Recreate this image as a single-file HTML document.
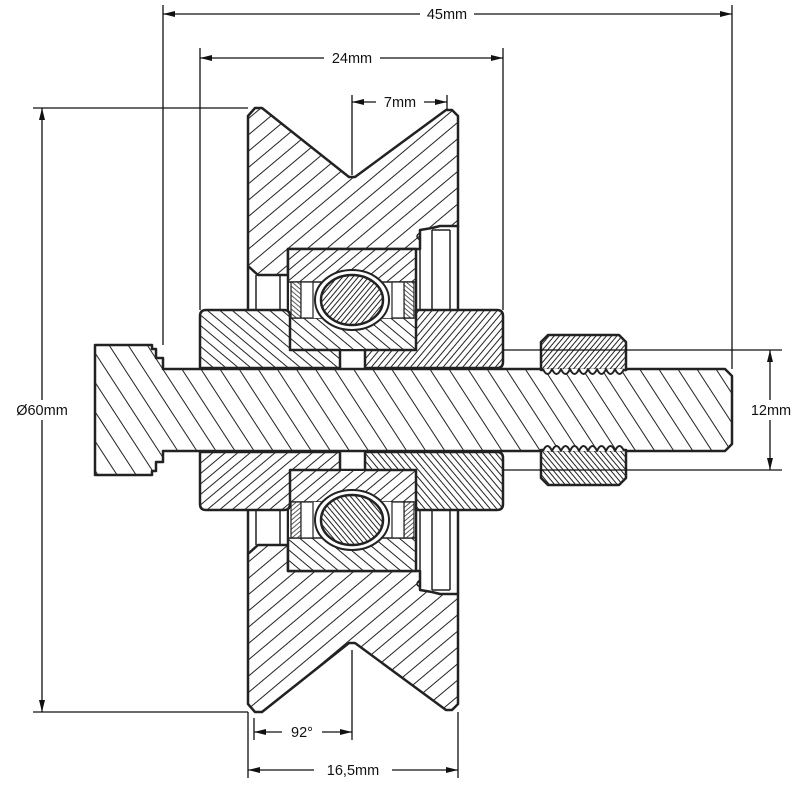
<!DOCTYPE html>
<html><head><meta charset="utf-8"><style>
html,body{margin:0;padding:0;background:#fff;}
svg{display:block;}
text{font-family:"Liberation Sans","DejaVu Sans",sans-serif;font-size:14.5px;fill:#111;}
</style></head><body>
<svg width="800" height="800" viewBox="0 0 800 800" xmlns="http://www.w3.org/2000/svg">
<defs>
<pattern id="pw" patternUnits="userSpaceOnUse" width="20" height="12.5" patternTransform="rotate(-40)"><rect width="20" height="12.5" fill="#fff"/><line x1="0" y1="0.5" x2="20" y2="0.5" stroke="#222" stroke-width="1.1"/></pattern>
<pattern id="pwb" patternUnits="userSpaceOnUse" width="20" height="12.5" patternTransform="rotate(40)"><rect width="20" height="12.5" fill="#fff"/><line x1="0" y1="0.5" x2="20" y2="0.5" stroke="#222" stroke-width="1.1"/></pattern>
<pattern id="pb" patternUnits="userSpaceOnUse" width="20" height="16" patternTransform="rotate(57)"><rect width="20" height="16" fill="#fff"/><line x1="0" y1="0.5" x2="20" y2="0.5" stroke="#222" stroke-width="1.1"/></pattern>
<pattern id="pl" patternUnits="userSpaceOnUse" width="20" height="8" patternTransform="rotate(40)"><rect width="20" height="8" fill="#fff"/><line x1="0" y1="0.5" x2="20" y2="0.5" stroke="#222" stroke-width="1"/></pattern>
<pattern id="po" patternUnits="userSpaceOnUse" width="20" height="8" patternTransform="rotate(-40)"><rect width="20" height="8" fill="#fff"/><line x1="0" y1="0.5" x2="20" y2="0.5" stroke="#222" stroke-width="1"/></pattern>
<pattern id="pr" patternUnits="userSpaceOnUse" width="20" height="5" patternTransform="rotate(-50)"><rect width="20" height="5" fill="#fff"/><line x1="0" y1="0.5" x2="20" y2="0.5" stroke="#222" stroke-width="0.9"/></pattern>
<pattern id="pf" patternUnits="userSpaceOnUse" width="20" height="4" patternTransform="rotate(-50)"><rect width="20" height="4" fill="#fff"/><line x1="0" y1="0.5" x2="20" y2="0.5" stroke="#222" stroke-width="0.9"/></pattern>
<pattern id="pc" patternUnits="userSpaceOnUse" width="20" height="3.5" patternTransform="rotate(40)"><rect width="20" height="3.5" fill="#fff"/><line x1="0" y1="0.5" x2="20" y2="0.5" stroke="#222" stroke-width="0.8"/></pattern>
</defs>

<!-- axle + bolt -->
<path d="M95,345 L152,345 L152,349 L156,349 L156,358 L163,358 L163,369 L725,369 L732,376 L732,444 L725,451 L163,451 L163,462 L156,462 L156,471 L152,471 L152,475 L95,475 Z" fill="url(#pb)" stroke="#222" stroke-width="2.5" stroke-linejoin="round"/>

<g stroke="#222" stroke-linejoin="round">
  <path d="M248,116 L255,108 L262,108 L349,177 L355,177 L446,110 L452,110 L458,116 L458,226 L440,226 L432,228 L420,230 L420,249 L288,249 L288,275 L258,275 L248,266 Z" fill="url(#pw)" stroke-width="2.5"/>
  <g transform="matrix(1 0 0 -1 0 820)">
  <path d="M248,116 L255,108 L262,108 L349,177 L355,177 L446,110 L452,110 L458,116 L458,226 L440,226 L432,228 L420,230 L420,249 L288,249 L288,275 L258,275 L248,266 Z" fill="url(#pwb)" stroke-width="2.5"/>
  </g>
</g>

<g id="half" stroke="#222" stroke-linejoin="round">
  <line x1="248" y1="266" x2="248" y2="310" stroke-width="2.5"/>
  <line x1="458" y1="226" x2="458" y2="310" stroke-width="2.5"/>
  <line x1="256" y1="275" x2="256" y2="310" stroke-width="1.5"/>
  <line x1="280" y1="275" x2="280" y2="310" stroke-width="1.5"/>
  <path d="M420,230 L420,310 M432,230 L432,310 M450,230 L450,310 M432,230 L450,230" fill="none" stroke-width="1.5"/>
  <path d="M420,233 Q414,236 420,240" fill="none" stroke-width="1.5"/>
  <!-- bearing -->
  <rect x="288" y="249" width="128" height="101" fill="url(#po)" stroke-width="2.5"/>
  <rect x="289" y="318" width="126" height="31" fill="url(#pl)" stroke="none"/>
  <line x1="288" y1="318" x2="416" y2="318" stroke-width="1.5"/>
  <rect x="289" y="282" width="126" height="36" fill="#fff" stroke="none"/>
  <line x1="288" y1="282" x2="416" y2="282" stroke-width="1.5"/>
  <rect x="291" y="282" width="10" height="36" fill="url(#pc)" stroke-width="1.2"/>
  <rect x="404" y="282" width="10" height="36" fill="url(#pc)" stroke-width="1.2"/>
  <rect x="301" y="282" width="12" height="36" fill="#fff" stroke-width="1.2"/>
  <rect x="392" y="282" width="12" height="36" fill="#fff" stroke-width="1.2"/>
  <ellipse cx="352" cy="300" rx="37" ry="30" fill="#fff" stroke-width="2"/>
  <ellipse cx="352" cy="300" rx="31" ry="25" fill="url(#pf)" stroke-width="2.5"/>
  <!-- spacers -->
  <path d="M206,310 L284,310 Q290,310 290,316 L290,350 L340,350 L340,368 L200,368 L200,316 Q200,310 206,310 Z" fill="url(#pl)" stroke-width="2.5"/>
  <path d="M416,310 L497,310 Q503,310 503,316 L503,362 Q503,368 497,368 L365,368 L365,350 L416,350 Z" fill="url(#pr)" stroke-width="2.5"/>
  <!-- nut -->
  <path d="M548,335 L619,335 L626,342 L626,370 L541,370 L541,342 Z" fill="url(#pf)" stroke-width="2.5"/>
  <path d="M543,369 q4.5,10 9,0 q4.5,10 9,0 q4.5,10 9,0 q4.5,10 9,0 q4.5,10 9,0 q4.5,10 9,0 q4.5,10 9,0 q4.5,10 9,0 q4.5,10 9,0" fill="#fff" stroke-width="2"/>
</g>
<use href="#half" transform="matrix(1 0 0 -1 0 820)"/>

<!-- dimension / extension lines -->
<g stroke="#111" stroke-width="1.3" fill="none">
  <line x1="163" y1="5" x2="163" y2="345"/>
  <line x1="732" y1="5" x2="732" y2="369"/>
  <line x1="163" y1="14" x2="732" y2="14"/>
  <line x1="200" y1="48" x2="200" y2="310"/>
  <line x1="503" y1="48" x2="503" y2="310"/>
  <line x1="200" y1="58" x2="503" y2="58"/>
  <line x1="352" y1="95" x2="352" y2="175"/>
  <line x1="447" y1="95" x2="447" y2="110"/>
  <line x1="352" y1="102" x2="447" y2="102"/>
  <line x1="33" y1="108" x2="248" y2="108"/>
  <line x1="33" y1="712" x2="248" y2="712"/>
  <line x1="42" y1="108" x2="42" y2="712"/>
  <line x1="503" y1="350" x2="782" y2="350"/>
  <line x1="503" y1="470" x2="782" y2="470"/>
  <line x1="770" y1="350" x2="770" y2="470"/>
  <line x1="248" y1="712" x2="248" y2="778"/>
  <line x1="458" y1="712" x2="458" y2="778"/>
  <line x1="254" y1="718" x2="254" y2="740"/>
  <line x1="352" y1="650" x2="352" y2="740"/>
  <line x1="254" y1="732" x2="352" y2="732"/>
  <line x1="248" y1="770" x2="458" y2="770"/>
</g>
<g fill="#111">
  <path d="M163,14 l12,-3 v6z"/><path d="M732,14 l-12,-3 v6z"/>
  <path d="M200,58 l12,-3 v6z"/><path d="M503,58 l-12,-3 v6z"/>
  <path d="M352,102 l12,-3 v6z"/><path d="M447,102 l-12,-3 v6z"/>
  <path d="M42,108 l-3,12 h6z"/><path d="M42,712 l-3,-12 h6z"/>
  <path d="M770,350 l-3,12 h6z"/><path d="M770,470 l-3,-12 h6z"/>
  <path d="M254,732 l12,-3 v6z"/><path d="M352,732 l-12,-3 v6z"/>
  <path d="M248,770 l12,-3 v6z"/><path d="M458,770 l-12,-3 v6z"/>
</g>
<g>
  <rect x="420" y="5" width="54" height="18" fill="#fff"/><text x="447" y="19" text-anchor="middle">45mm</text>
  <rect x="324" y="49" width="56" height="18" fill="#fff"/><text x="352" y="63" text-anchor="middle">24mm</text>
  <rect x="376" y="93" width="48" height="18" fill="#fff"/><text x="400" y="107" text-anchor="middle">7mm</text>
  <rect x="4" y="400" width="76" height="20" fill="#fff"/><text x="42" y="415" text-anchor="middle">Ø60mm</text>
  <rect x="744" y="400" width="56" height="20" fill="#fff"/><text x="771" y="415" text-anchor="middle">12mm</text>
  <rect x="282" y="723" width="40" height="18" fill="#fff"/><text x="302" y="737" text-anchor="middle">92°</text>
  <rect x="314" y="761" width="78" height="18" fill="#fff"/><text x="353" y="775" text-anchor="middle">16,5mm</text>
</g>
</svg>
</body></html>
